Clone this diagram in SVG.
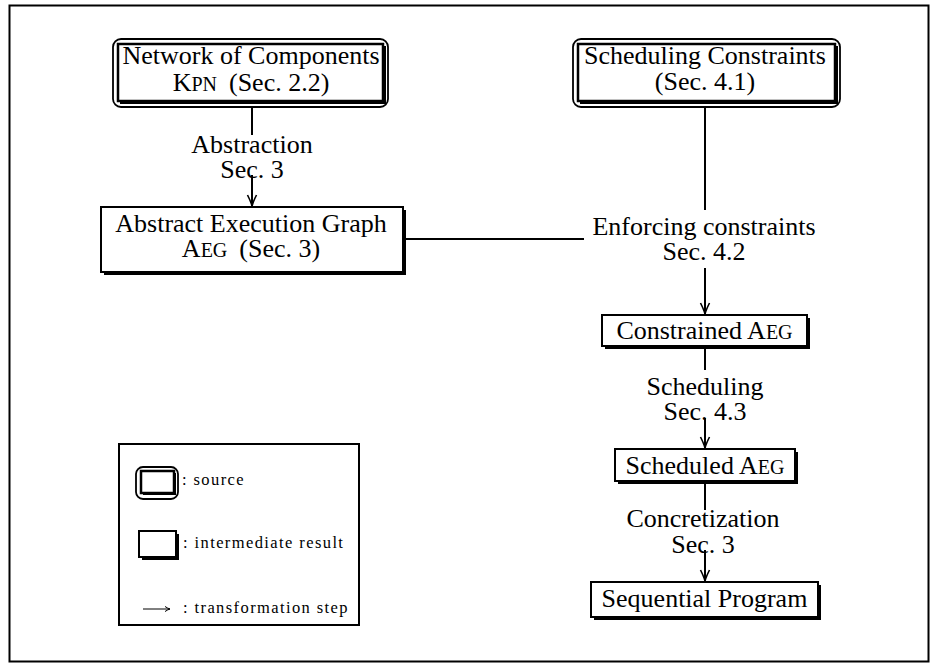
<svg xmlns="http://www.w3.org/2000/svg" width="930" height="665" viewBox="0 0 930 665">
<defs>
<style>
.t{font-family:"Liberation Serif","Times New Roman",serif;font-size:26px;fill:#000;text-anchor:middle}
.sc{font-size:20px}
.lg{font-family:"Liberation Serif","Times New Roman",serif;font-size:16.5px;letter-spacing:1.4px;fill:#000}
.ln{stroke:#000;stroke-width:2;fill:none}
.outer{fill:#fff;stroke:#000;stroke-width:1.8}
.inner{fill:#fff;stroke:#000;stroke-width:2.5}
.box{fill:#fff;stroke:#000;stroke-width:2}
.sh{fill:#000}
</style>
<marker id="arr" markerUnits="userSpaceOnUse" viewBox="-12 -6 14 12" refX="0" refY="0" markerWidth="14" markerHeight="12" orient="auto">
<path d="M -11 -4.5 Q -4 -1 0 0 Q -4 1 -11 4.5" fill="none" stroke="#000" stroke-width="1.6"/>
</marker>
<marker id="arrs" markerUnits="userSpaceOnUse" viewBox="-8 -4 10 8" refX="0" refY="0" markerWidth="10" markerHeight="8" orient="auto">
<path d="M -5 -2.5 Q -2 -0.5 0 0 Q -2 0.5 -5 2.5" fill="none" stroke="#000" stroke-width="1"/>
</marker>
</defs>
<rect x="9.5" y="5.5" width="919" height="656" fill="#fff" stroke="#000" stroke-width="2"/>

<g id="connectors">
<line class="ln" x1="252" y1="107" x2="252" y2="135"/>
<line class="ln" x1="252" y1="175" x2="252" y2="206" marker-end="url(#arr)"/>
<line class="ln" x1="705" y1="107" x2="705" y2="210"/>
<line class="ln" x1="404" y1="239" x2="584" y2="239"/>
<line class="ln" x1="705" y1="268" x2="705" y2="314" marker-end="url(#arr)"/>
<line class="ln" x1="705" y1="347" x2="705" y2="370"/>
<line class="ln" x1="705" y1="418" x2="705" y2="448" marker-end="url(#arr)"/>
<line class="ln" x1="705" y1="482" x2="705" y2="510"/>
<line class="ln" x1="705" y1="550" x2="705" y2="581" marker-end="url(#arr)"/>
<text class="t" x="252" y="153">Abstraction<tspan x="252" dy="25">Sec. 3</tspan></text>
<text class="t" x="704" y="235">Enforcing constraints<tspan x="704" dy="25">Sec. 4.2</tspan></text>
<text class="t" x="705" y="395">Scheduling<tspan x="705" dy="25">Sec. 4.3</tspan></text>
<text class="t" x="703" y="527">Concretization<tspan x="703" dy="26">Sec. 3</tspan></text>
</g>

<g id="node-kpn">
<rect class="outer" x="113" y="39" width="275" height="68" rx="8"/>
<rect class="sh" x="120" y="46" width="266" height="58"/>
<rect class="inner" x="118" y="44" width="265" height="57"/>
<text class="t" x="251" y="64">Network of Components<tspan x="251" dy="27">K</tspan><tspan class="sc">PN</tspan><tspan dx="12">(Sec. 2.2)</tspan></text>
</g>

<g id="node-constraints">
<rect class="outer" x="573" y="39" width="267" height="68" rx="8"/>
<rect class="sh" x="580" y="46" width="258" height="58"/>
<rect class="inner" x="578" y="44" width="257" height="57"/>
<text class="t" x="705" y="64">Scheduling Constraints<tspan x="705" dy="26">(Sec. 4.1)</tspan></text>
</g>

<g id="node-aeg">
<rect class="sh" x="104" y="210" width="302" height="65"/>
<rect class="box" x="101" y="207" width="302" height="65"/>
<text class="t" x="251" y="232">Abstract Execution Graph<tspan x="251" dy="25">A</tspan><tspan class="sc">EG</tspan><tspan dx="12">(Sec. 3)</tspan></text>
</g>

<g id="node-constrained">
<rect class="sh" x="605" y="318" width="205" height="31"/>
<rect class="box" x="602" y="315" width="205" height="31"/>
<text class="t" x="704.5" y="339">Constrained A<tspan class="sc">EG</tspan></text>
</g>

<g id="node-scheduled">
<rect class="sh" x="618" y="452" width="180" height="32"/>
<rect class="box" x="615" y="449" width="180" height="32"/>
<text class="t" x="705" y="474">Scheduled A<tspan class="sc">EG</tspan></text>
</g>

<g id="node-sequential">
<rect class="sh" x="594" y="585" width="227" height="35"/>
<rect class="box" x="591" y="582" width="227" height="35"/>
<text class="t" x="704.5" y="607">Sequential Program</text>
</g>

<g id="legend">
<rect x="119" y="444" width="240" height="181" fill="#fff" stroke="#000" stroke-width="2"/>
<rect class="outer" x="136" y="467" width="42" height="32" rx="7"/>
<rect class="sh" x="143" y="473" width="33" height="22"/>
<rect class="inner" x="141" y="471" width="33" height="22"/>
<text class="lg" x="182" y="485">: source</text>
<rect class="sh" x="142" y="534" width="37" height="26"/>
<rect class="box" x="139" y="531" width="37" height="26"/>
<text class="lg" x="183" y="548">: intermediate result</text>
<line x1="143" y1="609" x2="170" y2="609" stroke="#000" stroke-width="1" marker-end="url(#arrs)"/>
<text class="lg" x="183" y="613">: transformation step</text>
</g>
</svg>
